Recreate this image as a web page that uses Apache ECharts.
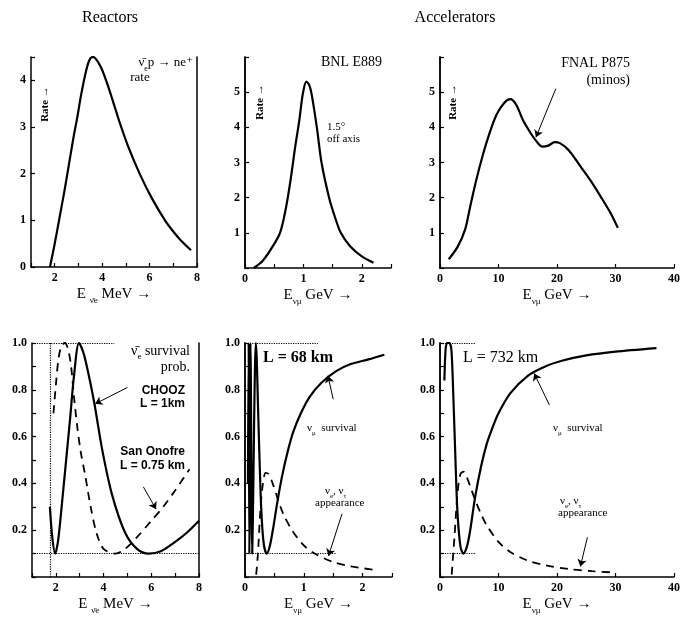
<!DOCTYPE html>
<html>
<head>
<meta charset="utf-8">
<title>Reactors and accelerators: rates and oscillation probabilities</title>
<script src="https://cdn.jsdelivr.net/npm/echarts@6/dist/echarts.min.js"></script>
<style>
    html, body { margin: 0; padding: 0; background: #fff; }
    #chart { width: 683px; height: 623px; }
</style>
</head>
<body>
<div id="chart"></div>
<script>
// ---- values ----
// top row: event rates
var reactorE    = [1.8, 2.0, 2.2, 2.4, 2.6, 2.8, 2.95, 3.1, 3.3, 3.45, 3.6, 3.75, 3.95, 4.2, 4.5, 4.75, 5.1, 5.6, 6.1, 6.65, 7.0, 7.3, 7.75];
var reactorRate = [0, 0.5, 1.05, 1.6, 2.2, 2.8, 3.2, 3.65, 4.15, 4.42, 4.5, 4.45, 4.28, 3.95, 3.48, 3.08, 2.58, 1.98, 1.47, 1.0, 0.76, 0.58, 0.36];

var bnlE    = [0.15, 0.3, 0.45, 0.6, 0.7, 0.78, 0.86, 0.93, 0.99, 1.05, 1.1, 1.14, 1.23, 1.31, 1.44, 1.54, 1.64, 1.8, 2.0, 2.2];
var bnlRate = [0, 0.2, 0.55, 1.0, 1.7, 2.5, 3.45, 4.2, 4.95, 5.3, 5.2, 4.95, 4.0, 3.0, 2.0, 1.45, 1.0, 0.62, 0.33, 0.15];

var minosE    = [1.5, 3.0, 4.3, 5.1, 6.2, 7.3, 8.5, 9.7, 11.0, 12.0, 13.0, 14.2, 15.4, 16.5, 17.5, 18.5, 19.6, 20.5, 22.0, 24.4, 26.0, 27.8, 29.2, 30.4];
var minosRate = [0.25, 0.6, 1.1, 1.7, 2.5, 3.2, 3.85, 4.37, 4.7, 4.8, 4.65, 4.2, 3.86, 3.6, 3.45, 3.48, 3.58, 3.55, 3.35, 2.8, 2.42, 1.94, 1.55, 1.14];

// bottom row: survival / appearance probabilities
var choozE = [1.75, 1.85, 1.97, 2.1, 2.28, 2.45, 2.6, 2.76, 2.97, 3.15, 3.32, 3.6, 3.95, 4.36, 4.9, 5.4, 5.9, 6.4, 7.0, 7.5, 8.0];
var choozP = [0.30, 0.17, 0.10, 0.16, 0.34, 0.52, 0.68, 0.86, 1.0, 0.96, 0.89, 0.75, 0.54, 0.35, 0.19, 0.12, 0.10, 0.11, 0.15, 0.19, 0.24];

var onofreE = [1.9, 2.0, 2.12, 2.25, 2.38, 2.52, 2.64, 2.76, 2.9, 3.05, 3.22, 3.46, 3.7, 4.0, 4.5, 4.9, 5.4, 6.0, 6.5, 7.0, 7.6];
var onofreP = [0.7, 0.82, 0.94, 0.99, 1.0, 0.97, 0.9, 0.77, 0.64, 0.53, 0.44, 0.30, 0.19, 0.12, 0.10, 0.12, 0.17, 0.24, 0.30, 0.37, 0.46];

var e889E = [0.05, 0.062, 0.074, 0.093, 0.123, 0.14, 0.155, 0.17, 0.185, 0.2, 0.22, 0.25, 0.28, 0.32, 0.37, 0.42, 0.48, 0.55, 0.63, 0.72, 0.82, 0.95, 1.1, 1.3, 1.55, 1.8, 2.1, 2.37];
var e889P = [0.4, 1.0, 0.1, 1.0, 0.1, 0.36, 0.66, 0.9, 1.0, 0.93, 0.74, 0.48, 0.27, 0.14, 0.10, 0.13, 0.21, 0.32, 0.43, 0.53, 0.62, 0.70, 0.77, 0.83, 0.88, 0.91, 0.93, 0.95];
var e889AppE = [0.19, 0.22, 0.26, 0.3, 0.35, 0.4, 0.47, 0.55, 0.65, 0.8, 1.0, 1.2, 1.5, 1.8, 2.2];
var e889AppP = [0.01, 0.10, 0.28, 0.39, 0.445, 0.44, 0.40, 0.34, 0.27, 0.20, 0.135, 0.098, 0.064, 0.045, 0.031];

var minosSurvE = [0.75, 0.95, 1.2, 1.6, 1.95, 2.27, 2.67, 3.0, 3.5, 4.0, 4.6, 5.1, 6.0, 7.0, 8.0, 9.0, 10, 12, 15, 18, 21, 25, 30, 37];
var minosSurvP = [0.84, 0.97, 1.0, 1.0, 0.97, 0.78, 0.48, 0.27, 0.13, 0.10, 0.13, 0.19, 0.34, 0.47, 0.57, 0.64, 0.70, 0.785, 0.86, 0.90, 0.925, 0.947, 0.963, 0.978];
var minosAppE = [2.0, 2.5, 3.0, 3.5, 4.0, 4.6, 5.2, 6.0, 7.0, 8.0, 10, 12, 15, 18, 22, 26, 30];
var minosAppP = [0.01, 0.18, 0.36, 0.44, 0.45, 0.425, 0.385, 0.33, 0.27, 0.22, 0.15, 0.107, 0.07, 0.05, 0.034, 0.025, 0.019];

// ---- chart ----
var SERIF = '"Liberation Serif", "DejaVu Serif", serif';
var SANS = '"Liberation Sans Narrow", "Liberation Sans", sans-serif';

function pairs(xs, ys) {
    return xs.map(function (x, i) { return [x, ys[i]]; });
}

var grids = [
    { left: 31,  top: 57,  width: 166, height: 210 },
    { left: 245, top: 57,  width: 146, height: 211 },
    { left: 440, top: 57,  width: 234, height: 211 },
    { left: 32,  top: 343, width: 167, height: 234 },
    { left: 245, top: 343, width: 147, height: 234 },
    { left: 440, top: 343, width: 234, height: 234 }
];

var nameRich = {
    m: { fontFamily: SERIF, fontSize: 15, color: '#000', verticalAlign: 'middle', lineHeight: 22 },
    s: { fontFamily: SERIF, fontSize: 9, color: '#000', verticalAlign: 'bottom', lineHeight: 22 }
};

function xAxis(i, min, max, interval, show, name) {
    return {
        type: 'value', gridIndex: i, min: min, max: max, interval: interval,
        axisLine: { onZero: false, lineStyle: { color: '#000', width: 1.5 } },
        axisTick: { inside: true, length: 4, lineStyle: { color: '#000', width: 1.2 } },
        splitLine: { show: false },
        axisLabel: {
            color: '#000', fontFamily: SERIF, fontSize: 12, fontWeight: 'bold', margin: 5,
            formatter: function (v) { return show(v) ? String(v) : ''; }
        },
        name: name, nameLocation: 'middle', nameGap: 16,
        nameTextStyle: { rich: nameRich }
    };
}

function yAxis(i, min, max, interval, fmt) {
    return {
        type: 'value', gridIndex: i, min: min, max: max, interval: interval,
        axisLine: { show: true, onZero: false, lineStyle: { color: '#000', width: 1.5 } },
        axisTick: { show: true, inside: true, length: 4, lineStyle: { color: '#000', width: 1.2 } },
        splitLine: { show: false },
        axisLabel: { color: '#000', fontFamily: SERIF, fontSize: 12, fontWeight: 'bold', margin: 5, formatter: fmt }
    };
}

function frameAxis(i) {
    return {
        type: 'value', gridIndex: i, position: 'right', min: 0, max: 1,
        axisLine: { show: true, lineStyle: { color: '#000', width: 1.5 } },
        axisTick: { show: false }, axisLabel: { show: false }, splitLine: { show: false }
    };
}

function isInt(v) { return Math.abs(v - Math.round(v)) < 1e-6; }
function even(v) { return isInt(v) && Math.round(v) % 2 === 0; }
function rateFmt(v) { return (isInt(v) && v >= 1 && v <= 5) ? String(v) : ''; }
function probFmt(v) {
    var t = Math.round(v * 10);
    return (t > 0 && t % 2 === 0) ? (t / 10).toFixed(1) : '';
}

function curve(i, xs, ys, dashed, marks) {
    var s = {
        type: 'line', xAxisIndex: i, yAxisIndex: i,
        data: pairs(xs, ys), showSymbol: false, smooth: 0.3,
        lineStyle: { color: '#000', width: dashed ? 1.8 : 2.2, type: dashed ? [8, 6] : 'solid' },
        silent: true, animation: false
    };
    if (marks) {
        s.markLine = {
            silent: true, symbol: ['none', 'none'], symbolSize: 7,
            label: { show: false }, emphasis: { disabled: true },
            lineStyle: { color: '#000', width: 1.2, type: 'dotted' },
            data: marks
        };
    }
    return s;
}

function dots(x1, y1, x2, y2) {
    return [{ coord: [x1, y1] }, { coord: [x2, y2] }];
}
function arrow(x1, y1, x2, y2) {
    return [{ coord: [x1, y1], symbol: 'none', lineStyle: { type: 'solid', width: 1, color: '#000' } },
            { coord: [x2, y2], symbol: 'arrow' }];
}

function txt(x, y, text, size, align, opts) {
    opts = opts || {};
    return {
        type: 'text', x: x, y: y, rotation: opts.rot || 0, silent: true,
        style: {
            text: text, fill: '#000', align: align || 'left', verticalAlign: 'middle',
            fontFamily: opts.family || SERIF, fontSize: size, fontWeight: opts.weight || 'normal',
            rich: opts.rich
        }
    };
}

var subRich = function (size) {
    return {
        s: { fontFamily: SERIF, fontSize: Math.round(size * 0.65), verticalAlign: 'bottom', lineHeight: size + 6 },
        n: { fontFamily: SERIF, fontSize: size, verticalAlign: 'middle', lineHeight: size + 6 }
    };
};

var option = {
    animation: false,
    backgroundColor: '#fff',
    grid: grids,
    xAxis: [
        xAxis(0, 1, 8, 1, even, '{m|E }{s|\u03bd\u0304e}{m| MeV \u2192}'),
        xAxis(1, 0, 2.5, 0.5, isInt, '{m|E}{s|\u03bd\u03bc}{m| GeV \u2192}'),
        xAxis(2, 0, 40, 10, function () { return true; }, '{m|E}{s|\u03bd\u03bc}{m| GeV \u2192}'),
        xAxis(3, 1, 8, 1, even, '{m|E }{s|\u03bd\u0304e}{m| MeV \u2192}'),
        xAxis(4, 0, 2.5, 0.5, isInt, '{m|E}{s|\u03bd\u03bc}{m| GeV \u2192}'),
        xAxis(5, 0, 40, 10, function () { return true; }, '{m|E}{s|\u03bd\u03bc}{m| GeV \u2192}')
    ],
    yAxis: [
        yAxis(0, 0, 4.5, 1, function (v) { return isInt(v) ? String(v) : ''; }),
        yAxis(1, 0, 6, 1, rateFmt),
        yAxis(2, 0, 6, 1, rateFmt),
        yAxis(3, 0, 1, 0.1, probFmt),
        yAxis(4, 0, 1, 0.1, probFmt),
        yAxis(5, 0, 1, 0.1, probFmt),
        frameAxis(0), frameAxis(1), frameAxis(2), frameAxis(3), frameAxis(4), frameAxis(5)
    ],
    series: [
        curve(0, reactorE, reactorRate, false),
        curve(1, bnlE, bnlRate, false),
        curve(2, minosE, minosRate, false, [arrow(19.8, 5.1, 16.4, 3.72)]),
        curve(3, choozE, choozP, false, [
            dots(1, 1, 4.45, 1), dots(1, 0.1, 8, 0.1), dots(1.75, 0, 1.75, 1),
            arrow(5.0, 0.81, 3.65, 0.74)
        ]),
        curve(3, onofreE, onofreP, true, [arrow(5.67, 0.385, 6.2, 0.29)]),
        curve(4, e889E, e889P, false, [
            dots(0, 1, 1.24, 1), dots(0.05, 0.1, 1.55, 0.1),
            arrow(1.5, 0.76, 1.41, 0.86)
        ]),
        curve(4, e889AppE, e889AppP, true, [arrow(1.65, 0.27, 1.42, 0.09)]),
        curve(5, minosSurvE, minosSurvP, false, [
            dots(0, 1, 6, 1), dots(0, 0.1, 6, 0.1),
            arrow(18.7, 0.735, 16.1, 0.87)
        ]),
        curve(5, minosAppE, minosAppP, true, [arrow(25.2, 0.17, 24.0, 0.045)])
    ],
    graphic: [
        txt(110, 18, 'Reactors', 16, 'center'),
        txt(455, 18, 'Accelerators', 16, 'center'),

        txt(45, 104, 'Rate \u2192', 11, 'center', { rot: Math.PI / 2, weight: 'bold' }),
        txt(260, 102, 'Rate \u2192', 11, 'center', { rot: Math.PI / 2, weight: 'bold' }),
        txt(453, 102, 'Rate \u2192', 11, 'center', { rot: Math.PI / 2, weight: 'bold' }),

        txt(193, 63, '{n|\u03bd\u0304}{s|e}{n|p \u2192 ne\u207a}', 13, 'right', { rich: subRich(13) }),
        txt(140, 78, 'rate', 13, 'center'),

        txt(382, 62, 'BNL E889', 14, 'right'),
        txt(327, 127, '1.5\u00b0', 11, 'left'),
        txt(327, 139, 'off axis', 11, 'left'),

        txt(630, 63, 'FNAL P875', 14, 'right'),
        txt(630, 80, '(minos)', 14, 'right'),

        txt(190, 351, '{n|\u03bd\u0304}{s|e}{n| survival}', 14, 'right', { rich: subRich(14) }),
        txt(190, 367, 'prob.', 14, 'right'),
        txt(185, 391, 'CHOOZ', 12, 'right', { family: SANS, weight: 'bold' }),
        txt(185, 404, 'L = 1km', 12, 'right', { family: SANS, weight: 'bold' }),
        txt(185, 452, 'San Onofre', 12, 'right', { family: SANS, weight: 'bold' }),
        txt(185, 466, 'L = 0.75 km', 12, 'right', { family: SANS, weight: 'bold' }),

        txt(263, 358, 'L = 68 km', 16, 'left', { weight: 'bold' }),
        txt(307, 428, '{n|\u03bd}{s|\u03bc}{n|  survival}', 11, 'left', { rich: subRich(11) }),
        txt(325, 491, '{n|\u03bd}{s|e}{n|, \u03bd}{s|\u03c4}', 11, 'left', { rich: subRich(11) }),
        txt(315, 503, 'appearance', 11, 'left'),

        txt(463, 358, 'L = 732 km', 16, 'left'),
        txt(553, 428, '{n|\u03bd}{s|\u03bc}{n|  survival}', 11, 'left', { rich: subRich(11) }),
        txt(560, 501, '{n|\u03bd}{s|e}{n|, \u03bd}{s|\u03c4}', 11, 'left', { rich: subRich(11) }),
        txt(558, 513, 'appearance', 11, 'left')
    ]
};

var chart = echarts.init(document.getElementById('chart'), null, { renderer: 'canvas' });
chart.setOption(option);
</script>
</body>
</html>
